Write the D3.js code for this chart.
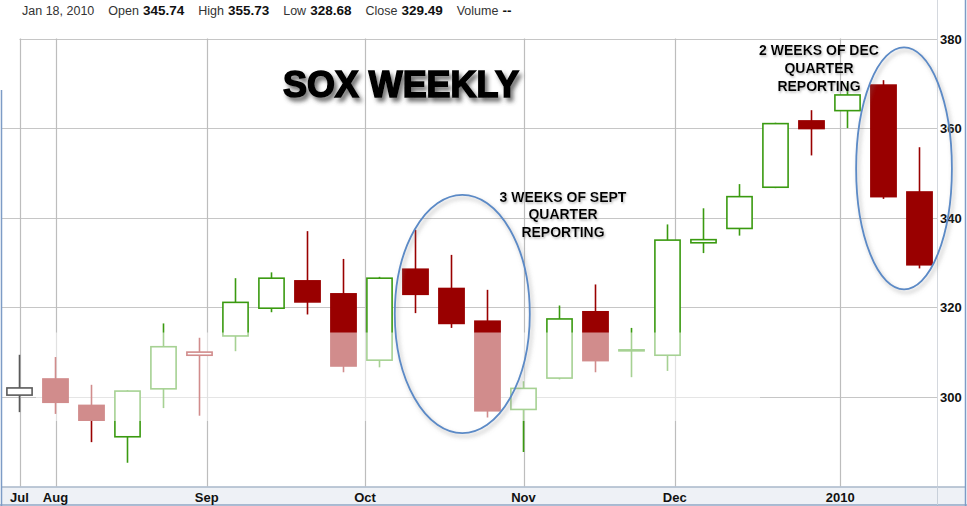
<!DOCTYPE html>
<html>
<head>
<meta charset="utf-8">
<script src="https://cdn.jsdelivr.net/npm/d3@7/dist/d3.min.js"></script>
<style>
  html, body { margin: 0; padding: 0; background: #fff; }
  svg { display: block; font-family: "Liberation Sans", Arial, sans-serif; }
</style>
</head>
<body>
<svg id="chart" width="967" height="506"></svg>
<script>
// ---- data ----
const weeks = ["2009-07-27","2009-08-03","2009-08-10","2009-08-17","2009-08-24","2009-08-31",
  "2009-09-07","2009-09-14","2009-09-21","2009-09-28","2009-10-05","2009-10-12","2009-10-19",
  "2009-10-26","2009-11-02","2009-11-09","2009-11-16","2009-11-23","2009-11-30","2009-12-07",
  "2009-12-14","2009-12-21","2009-12-28","2010-01-04","2010-01-11","2010-01-18"];
const openV  = [300.4,304.0,298.1,291.1,301.8,309.3,313.6,319.8,325.9,323.0,308.2,328.5,324.2,
  316.9,297.2,304.2,319.0,310.3,309.3,334.4,337.6,346.8,361.6,363.9,369.6,345.74];
const highV  = [309.4,308.9,302.7,301.5,316.4,313.2,326.5,327.8,337.0,330.8,326.8,337.3,331.7,
  323.9,303.5,320.4,325.1,315.4,338.5,342.1,347.5,361.2,364.0,370.1,370.7,355.73];
const lowV   = [296.6,296.2,289.9,285.3,297.5,295.8,310.2,318.9,318.4,305.5,306.6,318.7,315.4,
  295.4,287.7,303.9,305.5,304.4,305.8,332.1,336.0,346.6,353.9,360.0,344.2,328.68];
const closeV = [302.0,298.8,294.8,301.3,311.2,310.0,321.1,326.5,321.2,306.9,326.5,322.9,316.4,
  296.9,301.9,317.4,308.1,310.5,335.0,335.1,344.7,361.0,359.9,367.4,344.7,329.49];
const monthTickDates = ["2009-07-01","2009-08-01","2009-09-01","2009-10-01","2009-11-01","2009-12-01","2010-01-01"];
const monthTickLabels = ["Jul","Aug","Sep","Oct","Nov","Dec","2010"];
const yTicks = [300,320,340,360,380];
const headerItems = [["Jan 18, 2010",""],["Open","345.74"],["High","355.73"],["Low","328.68"],["Close","329.49"],["Volume","--"]];
const title = "SOX WEEKLY";
const note1 = ["3 WEEKS OF SEPT","QUARTER","REPORTING"];
const note2 = ["2 WEEKS OF DEC","QUARTER","REPORTING"];
// highlighted ranges: [center week index, half-width in weeks, top value, bottom value]
const ellipse1 = [12.3, 1.875, 345.1, 291.9];
const ellipse2 = [24.57, 1.33, 378.0, 324.0];

// ---- helpers ----
const parse = d3.utcParse("%Y-%m-%d");
const weekDates = weeks.map(parse);
function dateToIndex(s) {
  const d = parse(s);
  if (d < weekDates[0]) return 0;
  let i = 0;
  while (i + 1 < weekDates.length && weekDates[i + 1] <= d) i++;
  const days = (d - weekDates[i]) / 864e5;
  return i + Math.min(days, 5) / 5;
}

const data = weeks.map((w, i) => ({
  i, o: openV[i], h: highV[i], l: lowV[i], c: closeV[i],
  prev: i > 0 ? closeV[i - 1] : null
}));

const svg = d3.select("#chart");
const W = 967, H = 506;
const plotL = 2, plotR = 937, plotT = 38.5, plotB = 486.5;

const x = d3.scaleLinear().domain([0, weeks.length - 1]).range([19.5, 919.5]);
const y = d3.scaleLinear().domain([280, 380]).range([plotB, plotT]);
const bodyW = (x(1) - x(0)) * 0.7;

const defs = svg.append("defs");
const f1 = defs.append("filter").attr("id","titleShadow").attr("x","-10%").attr("y","-30%").attr("width","130%").attr("height","180%");
f1.append("feDropShadow").attr("dx",3).attr("dy",4).attr("stdDeviation",2.2).attr("flood-color","#444").attr("flood-opacity",0.75);
const f2 = defs.append("filter").attr("id","ellShadow").attr("x","-20%").attr("y","-20%").attr("width","140%").attr("height","140%");
f2.append("feDropShadow").attr("dx",2).attr("dy",3).attr("stdDeviation",2).attr("flood-color","#777").attr("flood-opacity",0.55);
const f3 = defs.append("filter").attr("id","noteShadow").attr("x","-10%").attr("y","-30%").attr("width","130%").attr("height","180%");
f3.append("feDropShadow").attr("dx",1).attr("dy",1.5).attr("stdDeviation",1).attr("flood-color","#888").attr("flood-opacity",0.6);

// background
svg.append("rect").attr("width", W).attr("height", H).attr("fill", "#fff");

// header
const hdr = svg.append("text").attr("x", 22).attr("y", 14.5).attr("font-size", 12.5).attr("fill", "#333");
headerItems.forEach((it, k) => {
  hdr.append("tspan").attr("dx", k === 0 ? 0 : 14).text(it[0]);
  if (it[1]) hdr.append("tspan").attr("dx", 4).attr("font-weight", "bold").attr("font-size", 13.5).attr("fill", "#111").text(it[1]);
});

// grid
const grid = svg.append("g");
yTicks.forEach(t => {
  grid.append("line")
    .attr("x1", t === 380 ? x(0) : plotL).attr("x2", plotR)
    .attr("y1", Math.round(y(t)) + 0.5).attr("y2", Math.round(y(t)) + 0.5)
    .attr("stroke", "#c6c6c6").attr("stroke-width", 1.2);
});
monthTickDates.forEach(s => {
  const xv = Math.round(x(dateToIndex(s))) + 0.5;
  grid.append("line").attr("x1", xv).attr("x2", xv).attr("y1", plotT).attr("y2", plotB)
    .attr("stroke", "#bdbdbd").attr("stroke-width", 1.2);
});
svg.append("line").attr("x1", plotR + 0.5).attr("x2", plotR + 0.5).attr("y1", 0).attr("y2", H)
  .attr("stroke", "#d4d8de").attr("stroke-width", 1);

// candles
const colorOf = d => d.prev === null ? "#5a5a5a" : (d.c >= d.prev ? "#3a9a10" : "#990000");
const cg = svg.append("g");
const candles = cg.selectAll("g.candle").data(data).join("g").attr("class", "candle");
candles.append("line")
  .attr("x1", d => x(d.i)).attr("x2", d => x(d.i))
  .attr("y1", d => y(d.h)).attr("y2", d => y(d.l))
  .attr("stroke", colorOf).attr("stroke-width", 1.6);
candles.append("rect")
  .attr("x", d => x(d.i) - bodyW / 2)
  .attr("width", bodyW)
  .attr("y", d => y(Math.max(d.o, d.c)))
  .attr("height", d => Math.max(1, Math.abs(y(d.o) - y(d.c))))
  .attr("fill", d => d.c < d.o ? colorOf(d) : "#fff")
  .attr("stroke", colorOf).attr("stroke-width", 1.6);

// faded watermark band
svg.append("rect").attr("x", 36).attr("y", 332.5).attr("width", 724).attr("height", 88.5)
  .attr("fill", "#fff").attr("opacity", 0.55);

// x axis band
svg.append("rect").attr("x", plotL).attr("y", plotB + 0.5).attr("width", 965 - plotL).attr("height", 18)
  .attr("fill", "#eef1f6");
svg.append("line").attr("x1", plotL).attr("x2", 965).attr("y1", plotB + 0.5).attr("y2", plotB + 0.5)
  .attr("stroke", "#a9b7ca").attr("stroke-width", 1.5);
svg.append("line").attr("x1", 0).attr("x2", W).attr("y1", 505).attr("y2", 505)
  .attr("stroke", "#8fa6c4").attr("stroke-width", 1.5);
svg.append("line").attr("x1", plotR + 0.5).attr("x2", plotR + 0.5).attr("y1", plotB).attr("y2", 505)
  .attr("stroke", "#c8d0da").attr("stroke-width", 1);
// outer blue borders
svg.append("line").attr("x1", 1.5).attr("x2", 1.5).attr("y1", 90).attr("y2", H).attr("stroke", "#7d9cc6").attr("stroke-width", 1.5);
svg.append("line").attr("x1", 965.5).attr("x2", 965.5).attr("y1", 0).attr("y2", H).attr("stroke", "#7d9cc6").attr("stroke-width", 1.5);

// x labels
monthTickDates.forEach((s, k) => {
  svg.append("text").attr("x", x(dateToIndex(s))).attr("y", 501.5)
    .attr("text-anchor", "middle").attr("font-weight", "bold").attr("font-size", 13)
    .attr("fill", "#111").text(monthTickLabels[k]);
});
// y labels
yTicks.forEach(t => {
  svg.append("text").attr("x", 940).attr("y", y(t) + 5)
    .attr("font-weight", "bold").attr("font-size", 13).attr("fill", "#111").text(t);
});

// ellipses
function drawEllipse(e) {
  const cx = x(e[0]);
  const rx = x(e[0] + e[1]) - cx;
  const cy = (y(e[2]) + y(e[3])) / 2;
  const ry = (y(e[3]) - y(e[2])) / 2;
  svg.append("ellipse").attr("cx", cx).attr("cy", cy).attr("rx", rx).attr("ry", ry)
    .attr("fill", "none").attr("stroke", "#5b8ac6").attr("stroke-width", 1.8)
    .attr("filter", "url(#ellShadow)");
}
drawEllipse(ellipse1);
drawEllipse(ellipse2);

// title
svg.append("text").attr("x", 401).attr("y", 97).attr("text-anchor", "middle")
  .attr("font-family", "'Liberation Sans', Arial, sans-serif")
  .attr("font-weight", "900").attr("font-size", 36)
  .attr("textLength", 236).attr("lengthAdjust", "spacingAndGlyphs")
  .attr("fill", "#000").attr("stroke", "#000").attr("stroke-width", 1.6)
  .attr("filter", "url(#titleShadow)").text(title);

// notes
function note(lines, cx, y0, dy) {
  const t = svg.append("text").attr("text-anchor", "middle").attr("font-weight", "bold")
    .attr("font-size", 14).attr("fill", "#000").attr("filter", "url(#noteShadow)");
  lines.forEach((s, k) => t.append("tspan").attr("x", cx).attr("y", y0 + k * dy).text(s));
}
note(note1, 563, 201.5, 17.5);
note(note2, 819, 54.5, 18.2);
</script>
</body>
</html>
